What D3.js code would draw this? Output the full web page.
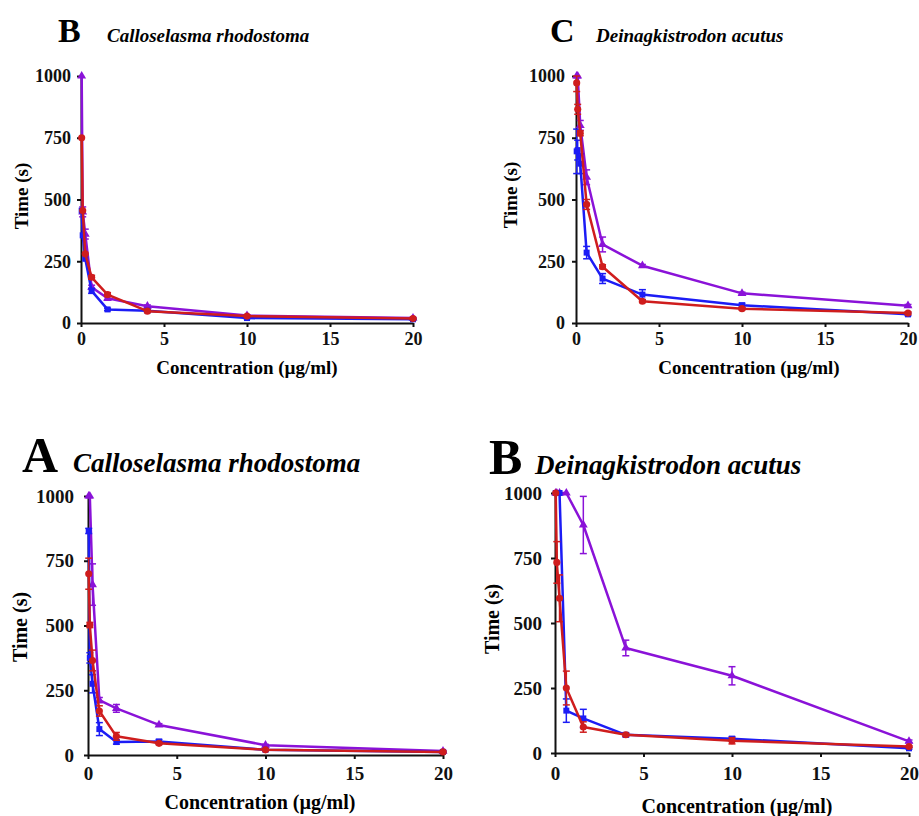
<!DOCTYPE html>
<html>
<head>
<meta charset="utf-8">
<script src="https://cdn.jsdelivr.net/npm/d3@7"></script>
<style>
  body { margin: 0; background: #fff; }
  svg text { font-family: "Liberation Serif", "DejaVu Serif", serif; font-weight: bold; }
</style>
</head>
<body>
<svg id="fig" width="919" height="816"></svg>
<script>
// concentrations (ug/ml), shared by every panel
var conc = [0.041, 0.1024, 0.256, 0.64, 1.6, 4, 10, 20];
var xTicks = [0, 5, 10, 15, 20];
var yTicks = [0, 250, 500, 750, 1000];

// top left: B Calloselasma rhodostoma
var p1Blue   = [455, 355, 260, 130, 55, 50, 20, 15];
var p1Red    = [750, 455, 280, 185, 115, 48, 28, 18];
var p1Purple = [1000, 450, 360, 145, 100, 68, 30, 20];
var p1BlueErr   = [0, 0, 0, 10, 5, 5, 3, 3];
var p1RedErr    = [0, 0, 0, 8, 8, 5, 3, 3];
var p1PurpleErr = [0, 20, 20, 8, 8, 5, 3, 3];

// top right: C Deinagkistrodon acutus
var p2Blue   = [695, 700, 645, 285, 180, 115, 72, 35];
var p2Red    = [972, 865, 768, 480, 228, 88, 58, 40];
var p2Purple = [1000, 1000, 800, 590, 318, 232, 120, 70];
var p2BlueErr   = [90, 40, 40, 25, 20, 20, 8, 5];
var p2RedErr    = [35, 20, 10, 20, 8, 5, 5, 5];
var p2PurpleErr = [0, 0, 20, 30, 30, 5, 5, 5];

// bottom left: A Calloselasma rhodostoma
var p3Blue   = [865, 375, 275, 100, 50, 52, 20, 12];
var p3Red    = [700, 502, 365, 170, 72, 45, 20, 12];
var p3Purple = [1000, 1000, 658, 212, 180, 116, 38, 15];
var p3BlueErr   = [10, 20, 35, 25, 8, 8, 3, 3];
var p3RedErr    = [60, 10, 40, 20, 15, 5, 3, 3];
var p3PurpleErr = [0, 0, 80, 10, 15, 5, 3, 3];

// bottom right: B Deinagkistrodon acutus
var p4Blue   = [1000, 1000, 1000, 163, 133, 70, 55, 18];
var p4Red    = [1000, 733, 595, 250, 100, 70, 47, 25];
var p4Purple = [1000, 1000, 1000, 1000, 877, 404, 297, 45];
var p4BlueErr   = [0, 0, 0, 45, 35, 8, 8, 3];
var p4RedErr    = [0, 80, 90, 65, 20, 5, 12, 3];
var p4PurpleErr = [0, 0, 0, 0, 110, 30, 35, 5];

var colBlue = '#1c1cf5', colRed = '#cf1d1d', colPurple = '#8a12d8';

var panels = [
    {letter: 'B', species: 'Calloselasma rhodostoma', series: [[p1Purple, p1PurpleErr], [p1Blue, p1BlueErr], [p1Red, p1RedErr]],
     x0: 81, x1: 413, yTop: 76, yBot: 323, letterX: 58, speciesX: 107, titleY: 42, letterSize: 34, speciesSize: 19,
     tickSize: 18, yTickGap: 10, xTickBase: 345, yLabelX: 21, yLabelY: 196, xLabelX: 247, xLabelY: 374, labelSize: 19},
    {letter: 'C', species: 'Deinagkistrodon acutus', series: [[p2Purple, p2PurpleErr], [p2Blue, p2BlueErr], [p2Red, p2RedErr]],
     x0: 576, x1: 908, yTop: 76, yBot: 323, letterX: 550, speciesX: 596, titleY: 42, letterSize: 34, speciesSize: 19,
     tickSize: 18, yTickGap: 11, xTickBase: 345, yLabelX: 510, yLabelY: 195, xLabelX: 749, xLabelY: 374, labelSize: 19},
    {letter: 'A', species: 'Calloselasma rhodostoma', series: [[p3Purple, p3PurpleErr], [p3Blue, p3BlueErr], [p3Red, p3RedErr]],
     x0: 88, x1: 443, yTop: 496, yBot: 755, letterX: 22, speciesX: 73, titleY: 472, letterSize: 50, speciesSize: 27,
     tickSize: 19, yTickGap: 14, xTickBase: 780, yLabelX: 20, yLabelY: 627, xLabelX: 260, xLabelY: 809, labelSize: 20},
    {letter: 'B', species: 'Deinagkistrodon acutus', series: [[p4Purple, p4PurpleErr], [p4Blue, p4BlueErr], [p4Red, p4RedErr]],
     x0: 555, x1: 909, yTop: 493, yBot: 753, letterX: 489, speciesX: 535, titleY: 474, letterSize: 50, speciesSize: 27,
     tickSize: 19, yTickGap: 13, xTickBase: 780, yLabelX: 492, yLabelY: 619, xLabelX: 737, xLabelY: 813, labelSize: 20}
];

var colours = [colPurple, colBlue, colRed];
var shapes = [d3.symbolTriangle, d3.symbolSquare, d3.symbolCircle];
var shapeSizes = [34, 36, 40];

var svg = d3.select('#fig');

function drawPanel(p){
    var g = svg.append('g');
    var x = d3.scaleLinear().domain([0, 20]).range([p.x0, p.x1]);
    var y = d3.scaleLinear().domain([0, 1000]).range([p.yBot, p.yTop]);

    // title
    g.append('text').attr('x', p.letterX).attr('y', p.titleY)
        .attr('font-size', p.letterSize).text(p.letter);
    g.append('text').attr('x', p.speciesX).attr('y', p.titleY)
        .attr('font-size', p.speciesSize).attr('font-style', 'italic').text(p.species);

    // axes
    var xAxis = g.append('g').attr('transform', 'translate(0,' + p.yBot + ')')
        .call(d3.axisBottom(x).tickValues(xTicks).tickSize(4).tickSizeOuter(0).tickFormat(d3.format('d')));
    var yAxis = g.append('g').attr('transform', 'translate(' + p.x0 + ',0)')
        .call(d3.axisLeft(y).tickValues(yTicks).tickSize(4).tickSizeOuter(0).tickFormat(d3.format('d')));

    [xAxis, yAxis].forEach(function(a){
        a.select('.domain').attr('stroke', '#111').attr('stroke-width', 2);
        a.selectAll('.tick line').attr('stroke', '#111').attr('stroke-width', 2);
        a.selectAll('.tick text').attr('font-size', p.tickSize).attr('fill', '#111')
            .style('font-family', '"Liberation Serif", serif').style('font-weight', 'bold');
    });
    xAxis.selectAll('.tick text').attr('dy', null).attr('y', p.xTickBase - p.yBot);
    yAxis.selectAll('.tick text').attr('x', -p.yTickGap);

    // axis labels
    g.append('text').attr('text-anchor', 'middle')
        .attr('transform', 'translate(' + p.yLabelX + ',' + p.yLabelY + ') rotate(-90)')
        .attr('dy', '0.35em').attr('font-size', p.labelSize).text('Time (s)');
    g.append('text').attr('text-anchor', 'middle').attr('x', p.xLabelX).attr('y', p.xLabelY)
        .attr('font-size', p.labelSize).text('Concentration (\u00b5g/ml)');

    var line = d3.line().x(function(d){ return x(d[0]); }).y(function(d){ return y(d[1]); });

    p.series.forEach(function(s, k){
        var vals = s[0], errs = s[1];
        var pts = conc.map(function(c, i){ return [c, vals[i], errs[i]]; });
        var col = colours[k];
        var sg = g.append('g');

        // error bars
        pts.filter(function(d){ return d[2] > 0; }).forEach(function(d){
            var cx = x(d[0]);
            var top = y(Math.min(1000, d[1] + d[2])), bot = y(d[1] - d[2]);
            sg.append('line').attr('x1', cx).attr('x2', cx).attr('y1', top).attr('y2', bot)
                .attr('stroke', col).attr('stroke-width', 1.5);
            [top, bot].forEach(function(yy){
                sg.append('line').attr('x1', cx - 3.5).attr('x2', cx + 3.5).attr('y1', yy).attr('y2', yy)
                    .attr('stroke', col).attr('stroke-width', 1.5);
            });
        });

        sg.append('path').datum(pts).attr('d', line)
            .attr('fill', 'none').attr('stroke', col).attr('stroke-width', 2.5)
            .attr('stroke-linejoin', 'round');

        sg.selectAll('path.mk').data(pts).enter().append('path').attr('class', 'mk')
            .attr('transform', function(d){ return 'translate(' + x(d[0]) + ',' + y(d[1]) + ')'; })
            .attr('d', d3.symbol().type(shapes[k]).size(shapeSizes[k]))
            .attr('fill', col);
    });
}

panels.forEach(drawPanel);
</script>
</body>
</html>
